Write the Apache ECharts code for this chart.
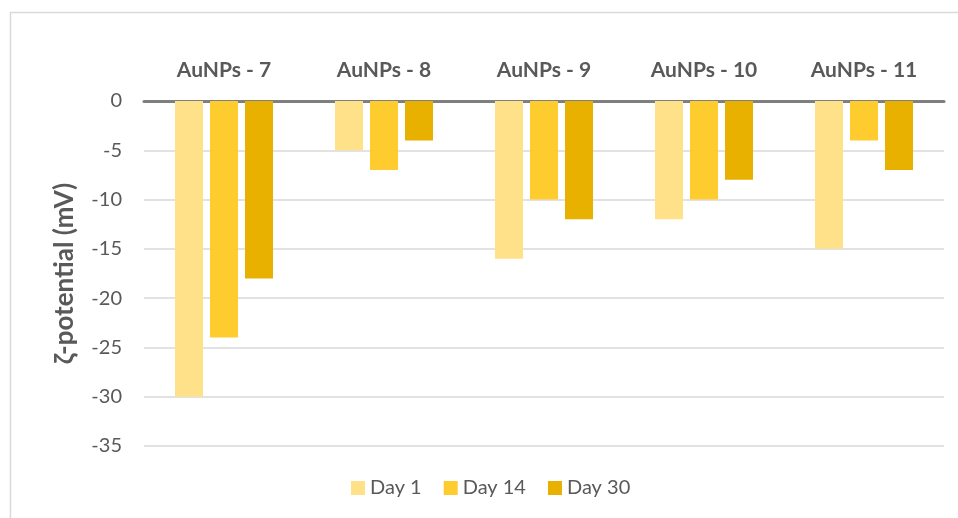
<!DOCTYPE html>
<html>
<head>
<meta charset="utf-8">
<script src="https://cdn.jsdelivr.net/npm/echarts@6/dist/echarts.min.js"></script>
<style>
  html, body { margin: 0; padding: 0; background: #fff; }
  #chart { width: 958px; height: 518px; }
</style>
</head>
<body>
<div id="chart"></div>
<script>
// Zeta potential of AuNP samples over storage time
const categories = ['AuNPs - 7', 'AuNPs - 8', 'AuNPs - 9', 'AuNPs - 10', 'AuNPs - 11'];
const seriesNames = ['Day 1', 'Day 14', 'Day 30'];
const day1 = [-30, -5, -16, -12, -15];
const day14 = [-24, -7, -10, -10, -4];
const day30 = [-18, -4, -12, -8, -7];
const yTicks = { min: -35, max: 0, step: 5 };

const colors = ['#FFE18A', '#FFCC2F', '#E8B100'];
const font = 'Lato, "Open Sans", sans-serif';
const seriesData = [day1, day14, day30];

const chart = echarts.init(document.getElementById('chart'));
chart.setOption({
  animation: false,
  backgroundColor: '#fff',
  textStyle: { fontFamily: font },
  graphic: [{
    type: 'rect',
    shape: { x: 10.5, y: 12.5, width: 960, height: 520 },
    style: { fill: 'none', stroke: '#D9D9D9', lineWidth: 1.5 },
    silent: true
  }],
  grid: { left: 144, right: 14, top: 101, bottom: 72 },
  legend: {
    bottom: 15,
    left: 346,
    itemWidth: 14,
    itemHeight: 14,
    itemGap: 22,
    icon: 'rect',
    textStyle: { color: '#595959', fontSize: 20, fontFamily: font },
    data: seriesNames
  },
  xAxis: {
    type: 'category',
    position: 'top',
    data: categories,
    axisLine: { show: true, lineStyle: { color: '#7F7F7F', width: 3 } },
    axisTick: { show: false },
    axisLabel: { color: '#595959', fontSize: 21, fontWeight: 'bold', margin: 20, fontFamily: font }
  },
  yAxis: {
    type: 'value',
    min: yTicks.min,
    max: yTicks.max,
    interval: yTicks.step,
    name: 'ζ-potential (mV)',
    nameLocation: 'middle',
    nameRotate: 90,
    nameGap: 66,
    nameTextStyle: { color: '#595959', fontSize: 26, fontWeight: 'bold', fontFamily: font },
    axisLine: { show: false },
    axisTick: { show: false },
    axisLabel: { color: '#595959', fontSize: 20, margin: 22, fontFamily: font },
    splitLine: { lineStyle: { color: '#D9D9D9', width: 1.5 } }
  },
  series: seriesNames.map((name, i) => ({
    name,
    type: 'bar',
    data: seriesData[i],
    barWidth: 28,
    barGap: '25%',
    itemStyle: { color: colors[i] }
  }))
});
</script>
</body>
</html>
